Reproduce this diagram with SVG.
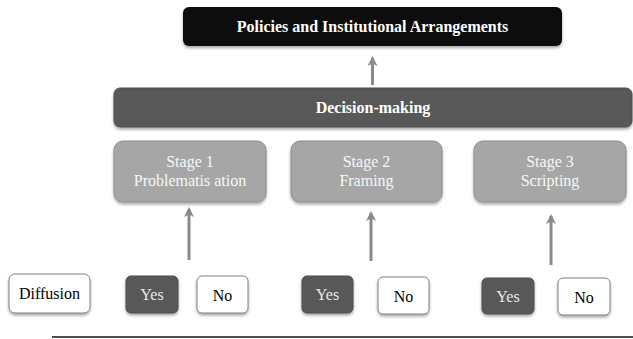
<svg xmlns="http://www.w3.org/2000/svg" width="633" height="339" viewBox="0 0 633 339">
<defs>
  <filter id="sh" x="-10%" y="-20%" width="120%" height="150%">
    <feDropShadow dx="0" dy="2" stdDeviation="1.5" flood-color="#000" flood-opacity="0.35"/>
  </filter>
  <marker id="ah" viewBox="0 0 10 10" refX="8" refY="5" markerWidth="10" markerHeight="10" markerUnits="userSpaceOnUse" orient="auto">
    <path d="M0,0 L10,5 L0,10 L2.5,5 Z" fill="#8a8a8a"/>
  </marker>
  <style>
    .t { font-size: 16px; text-anchor: middle; }
    .bold { font-weight: bold; fill: #ffffff; }
    .stage rect { fill: #a6a6a6; stroke: #8c8c8c; stroke-width: 1; filter: url(#sh); }
    .stage text { fill: #f7f7f7; }
    .yes rect { fill: #595959; stroke: #4d4d4d; stroke-width: 1; filter: url(#sh); }
    .yes text { fill: #e8e8e8; }
    .no rect { fill: #ffffff; stroke: #7f7f7f; stroke-width: 1; filter: url(#sh); }
    .no text { fill: #000000; }
    .conn line { stroke: #8a8a8a; stroke-width: 3; marker-end: url(#ah); }
  </style>
</defs>
<rect width="633" height="339" fill="#ffffff"/>

<g font-family="'Liberation Serif', 'Times New Roman', 'DejaVu Serif', serif">
<g id="policies">
  <rect x="183" y="7" width="379" height="39" rx="6" fill="#0d0d0d" filter="url(#sh)"/>
  <text class="t bold" x="372.5" y="32">Policies and Institutional Arrangements</text>
</g>

<g id="decision">
  <rect x="114" y="88" width="518" height="39" rx="6" fill="#595959" stroke="#4f4f4f" stroke-width="1" filter="url(#sh)"/>
  <text class="t bold" x="373" y="113">Decision-making</text>
</g>

<g id="stage1" class="stage">
  <rect x="114" y="141" width="152" height="61" rx="9"/>
  <text class="t" x="190" y="167">Stage 1</text>
  <text class="t" x="190" y="186">Problematis ation</text>
</g>
<g id="stage2" class="stage">
  <rect x="291" y="141" width="151" height="61" rx="9"/>
  <text class="t" x="366.5" y="167">Stage 2</text>
  <text class="t" x="366.5" y="186">Framing</text>
</g>
<g id="stage3" class="stage">
  <rect x="474" y="141" width="152" height="61" rx="9"/>
  <text class="t" x="550" y="167">Stage 3</text>
  <text class="t" x="550" y="186">Scripting</text>
</g>

<g id="diffusion" class="no">
  <rect x="9" y="274" width="81" height="39" rx="6"/>
  <text class="t" x="49.5" y="299">Diffusion</text>
</g>

<g id="yes1" class="yes">
  <rect x="126" y="276" width="52" height="37" rx="5"/>
  <text class="t" x="152" y="300">Yes</text>
</g>
<g id="no1" class="no">
  <rect x="197" y="276" width="51" height="37" rx="5"/>
  <text class="t" x="222.5" y="301">No</text>
</g>
<g id="yes2" class="yes">
  <rect x="302" y="276" width="51" height="37" rx="5"/>
  <text class="t" x="327.5" y="300">Yes</text>
</g>
<g id="no2" class="no">
  <rect x="378" y="277" width="51" height="37" rx="5"/>
  <text class="t" x="403.5" y="302">No</text>
</g>
<g id="yes3" class="yes">
  <rect x="482" y="278" width="52" height="36" rx="5"/>
  <text class="t" x="508" y="302">Yes</text>
</g>
<g id="no3" class="no">
  <rect x="558" y="278" width="52" height="37" rx="5"/>
  <text class="t" x="584" y="303">No</text>
</g>
</g>

<g id="connectors" class="conn">
  <line x1="372.5" y1="85" x2="372.5" y2="58"/>
  <line x1="189" y1="260" x2="189" y2="209"/>
  <line x1="371" y1="261" x2="371" y2="213"/>
  <line x1="551" y1="265" x2="551" y2="216"/>
</g>

<line id="baseline" x1="52" y1="337" x2="633" y2="337" stroke="#111111" stroke-width="1.5"/>
</svg>
